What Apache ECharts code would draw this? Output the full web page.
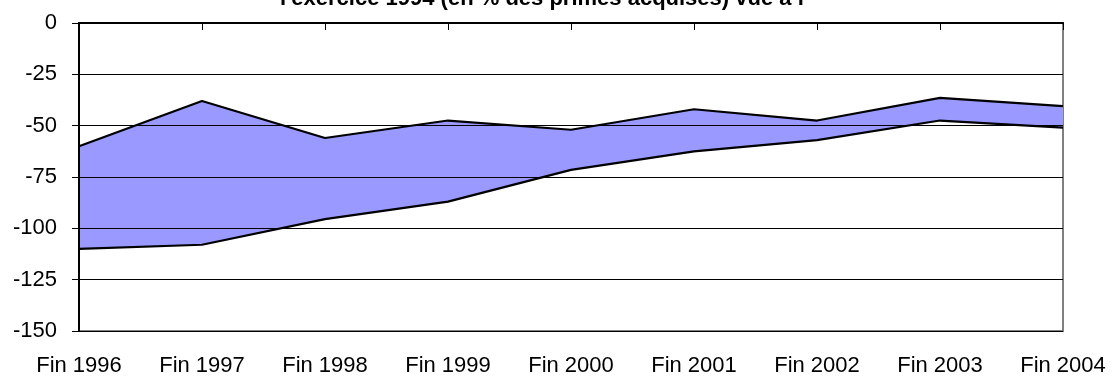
<!DOCTYPE html>
<html>
<head>
<meta charset="utf-8">
<script src="https://cdn.jsdelivr.net/npm/echarts@6/dist/echarts.min.js"></script>
<style>
  html, body { margin: 0; padding: 0; background: #ffffff; }
  #chart { width: 1112px; height: 377px; }
</style>
</head>
<body>
<div id="chart"></div>
<script>
// Year-end snapshots
const categories = ['Fin 1996', 'Fin 1997', 'Fin 1998', 'Fin 1999', 'Fin 2000', 'Fin 2001', 'Fin 2002', 'Fin 2003', 'Fin 2004'];
// Upper edge of the band (% of earned premiums)
const upperValues = [-60, -38, -56, -47.5, -52, -42, -47.5, -36.5, -40.5];
// Lower edge of the band (% of earned premiums)
const lowerValues = [-110, -108, -95.5, -87, -71.5, -62.5, -57, -47.5, -51];
const titleText = "l'exercice 1994 (en % des primes acquises) vue à l'";

// Thickness of the band, stacked on top of the lower edge
const bandWidth = upperValues.map((v, i) => v - lowerValues[i]);

const FONT = "'Liberation Sans', Arial, Helvetica, sans-serif";
const chart = echarts.init(document.getElementById('chart'), null, { renderer: 'canvas' });

chart.setOption({
  animation: false,
  backgroundColor: '#ffffff',
  textStyle: { fontFamily: FONT },
  graphic: [{
    type: 'text',
    left: 280,
    top: -12,
    z: 10,
    style: {
      text: titleText,
      font: 'bold 22px ' + FONT,
      fill: '#000000'
    }
  }],
  grid: {
    left: 79,
    right: 49,
    top: 23,
    bottom: 45,
    show: true,
    borderColor: '#808080',
    borderWidth: 2,
    backgroundColor: '#ffffff'
  },
  xAxis: {
    type: 'category',
    data: categories,
    boundaryGap: false,
    z: 5,
    axisLine: { show: true, lineStyle: { color: '#000000', width: 2 } },
    axisTick: { show: true, length: 7, lineStyle: { color: '#000000', width: 1 } },
    axisLabel: { color: '#000000', fontSize: 22, fontFamily: FONT, margin: 24, interval: 0 },
    splitLine: { show: false }
  },
  yAxis: {
    type: 'value',
    min: -150,
    max: 0,
    interval: 25,
    z: 5,
    axisLine: { show: true, lineStyle: { color: '#000000', width: 2 } },
    axisTick: { show: true, length: 7, lineStyle: { color: '#000000', width: 1 } },
    axisLabel: { color: '#000000', fontSize: 22, fontFamily: FONT, margin: 22 },
    splitLine: {
      show: true,
      lineStyle: {
        color: ['#000000', '#000000', '#000000', '#000000', '#000000', '#000000', '#808080'],
        width: 1
      }
    }
  },
  series: [
    {
      name: 'bas',
      type: 'line',
      data: lowerValues,
      stack: 'band',
      stackStrategy: 'all',
      symbol: 'none',
      z: 4,
      lineStyle: { color: '#000000', width: 2.2 }
    },
    {
      name: 'haut',
      type: 'line',
      data: bandWidth,
      stack: 'band',
      stackStrategy: 'all',
      symbol: 'none',
      z: 3,
      lineStyle: { color: '#000000', width: 2.2 },
      areaStyle: { color: '#9999FF', opacity: 1 }
    }
  ]
});
</script>
</body>
</html>
